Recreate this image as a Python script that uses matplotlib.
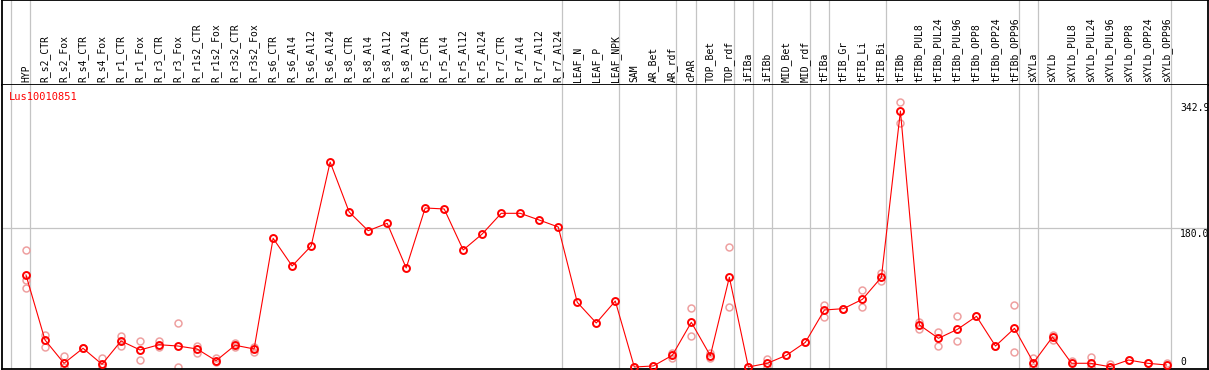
#!/usr/bin/env python3
"""Expression profile of Lus10010851 across tissues / treatments."""
import matplotlib
matplotlib.use("Agg")
import matplotlib.pyplot as plt
from matplotlib.transforms import blended_transform_factory

SAMPLES = [
    "HYP",
    "R_s2_CTR", "R_s2_Fox", "R_s4_CTR", "R_s4_Fox", "R_r1_CTR", "R_r1_Fox",
    "R_r3_CTR", "R_r3_Fox", "R_r1s2_CTR", "R_r1s2_Fox", "R_r3s2_CTR", "R_r3s2_Fox",
    "R_s6_CTR", "R_s6_Al4", "R_s6_Al12", "R_s6_Al24",
    "R_s8_CTR", "R_s8_Al4", "R_s8_Al12", "R_s8_Al24",
    "R_r5_CTR", "R_r5_Al4", "R_r5_Al12", "R_r5_Al24",
    "R_r7_CTR", "R_r7_Al4", "R_r7_Al12", "R_r7_Al24",
    "LEAF_N", "LEAF_P", "LEAF_NPK",
    "SAM", "AR_Bet", "AR_rdf", "cPAR", "TOP_Bet", "TOP_rdf",
    "iFIBa", "iFIBb", "MID_Bet", "MID_rdf",
    "tFIBa", "tFIB_Gr", "tFIB_Li", "tFIB_Bi", "tFIBb",
    "tFIBb_PUL8", "tFIBb_PUL24", "tFIBb_PUL96", "tFIBb_OPP8", "tFIBb_OPP24", "tFIBb_OPP96",
    "sXYLa", "sXYLb",
    "sXYLb_PUL8", "sXYLb_PUL24", "sXYLb_PUL96", "sXYLb_OPP8", "sXYLb_OPP24", "sXYLb_OPP96",
]

MEANS = [
    118.9,
    34.9, 4.8, 24.2, 3.5, 33.6, 22.0,
    28.8, 27.1, 23.3, 8.1, 28.1, 23.3,
    166.4, 130.6, 156.4, 265.0,
    200.4, 176.2, 185.8, 128.0,
    205.6, 204.3, 151.3, 172.0,
    198.7, 198.7, 190.0, 181.0,
    83.6, 56.9, 85.3,
    0.0, 1.3, 15.1, 57.8, 14.6, 116.0,
    0.0, 4.8, 15.1, 31.9,
    73.7, 75.4, 87.5, 116.0, 331.0,
    54.3, 37.1, 48.7, 65.5, 27.1, 50.0,
    5.6, 38.8,
    4.8, 4.8, 0.4, 9.0, 4.8, 2.6,
]

# individual replicates (empty where only the mean is shown)
REPLICATES = [
    [150.9, 112.5, 101.7],
    [41.4, 26.2], [14.2, 0.0], [24.2, 24.2], [12.0, 0.0], [40.1, 27.1], [34.0, 9.0],
    [34.0, 25.5], [57.4, 0.0], [27.5, 18.5], [11.2, 6.9], [31.4, 26.2], [26.2, 19.4],
    [], [], [], [],
    [], [], [], [],
    [], [], [], [],
    [], [], [], [],
    [], [], [],
    [0.0], [1.3], [18.5, 11.2], [75.9, 40.5], [17.7, 12.0], [155.1, 77.2],
    [0.0, 0.0], [10.0, 0.0], [15.1], [31.9],
    [80.2, 65.0], [75.4, 75.4], [99.5, 77.2], [121.9, 111.2], [342.9, 315.0],
    [58.6, 49.1], [44.9, 27.5], [65.5, 33.2], [65.5], [27.1], [79.8, 19.0],
    [11.2, 0.4], [41.8, 34.9],
    [8.1], [12.5, 0.0], [3.9], [9.0], [4.8], [5.6],
]

# group separators drawn after these sample indices
SEPARATORS_AFTER = [-1, 0, 28, 31, 34, 35, 37, 38, 39, 41, 42, 45, 52, 53, 60]

GENE = "Lus10010851"
Y_MAX_LABEL = 342.9
Y_MID = 180.0

W, H = 1209, 370
FONT = "DejaVu Sans Mono"
GRID = "#c4c4c4"
RED = "#ff0000"
PINK = "#eea0a0"


def main() -> None:
    fig = plt.figure(figsize=(W / 100, H / 100), dpi=100)
    left, right = 2 / W, 1208 / W
    ax_head = fig.add_axes((left, 1 - 85 / H, right - left, 85 / H))
    ax = fig.add_axes((left, 1 / H, right - left, 284 / H))

    xlim = (-1.262, 62.18)
    for a in (ax_head, ax):
        a.set_xlim(*xlim)
        a.set_xticks([])
        a.set_yticks([])
        for sp in a.spines.values():
            sp.set_linewidth(1.3)
            sp.set_color("black")
        for idx in SEPARATORS_AFTER:
            a.axvline(idx + 0.22, color=GRID, lw=0.9, zorder=0)
    ax_head.set_ylim(0, 1)
    ax.spines["top"].set_visible(False)

    # header labels
    for i, name in enumerate(SAMPLES):
        ax_head.text(i, 0.04, name, rotation=90, ha="center", va="bottom",
                     fontsize=7, family=FONT, color="black")

    ax.set_ylim(-2.6, 364.6)
    ax.axhline(Y_MID, color=GRID, lw=0.9, zorder=0)

    xs = list(range(len(SAMPLES)))
    rx = [i for i, reps in enumerate(REPLICATES) for _ in reps]
    ry = [v for reps in REPLICATES for v in reps]
    ax.plot(rx, ry, ls="none", marker="o", ms=5, mfc="none", mec=PINK,
            mew=1.1, zorder=2, clip_on=True)
    ax.plot(xs, MEANS, color=RED, lw=0.8, marker="o", ms=5, mfc="none",
            mec=RED, mew=1.4, zorder=3)

    ax.text(0.006, 0.975, GENE, transform=ax.transAxes, ha="left", va="top",
            fontsize=7.5, family=FONT, color=RED)

    tr = blended_transform_factory(ax.transAxes, ax.transData)
    xt = (1180 - 2) / 1206
    ax.text(xt, Y_MAX_LABEL - 1.5, f"{Y_MAX_LABEL:.1f}", transform=tr,
            ha="left", va="top", fontsize=7, family=FONT, clip_on=True)
    ax.text(xt, Y_MID - 1.5, f"{Y_MID:.1f}", transform=tr,
            ha="left", va="top", fontsize=7, family=FONT)
    ax.text(xt, 6.5, "0", transform=tr, ha="left", va="center",
            fontsize=7, family=FONT)

    fig.savefig("out.png", dpi=100)
    plt.close(fig)


if __name__ == "__main__":
    main()
